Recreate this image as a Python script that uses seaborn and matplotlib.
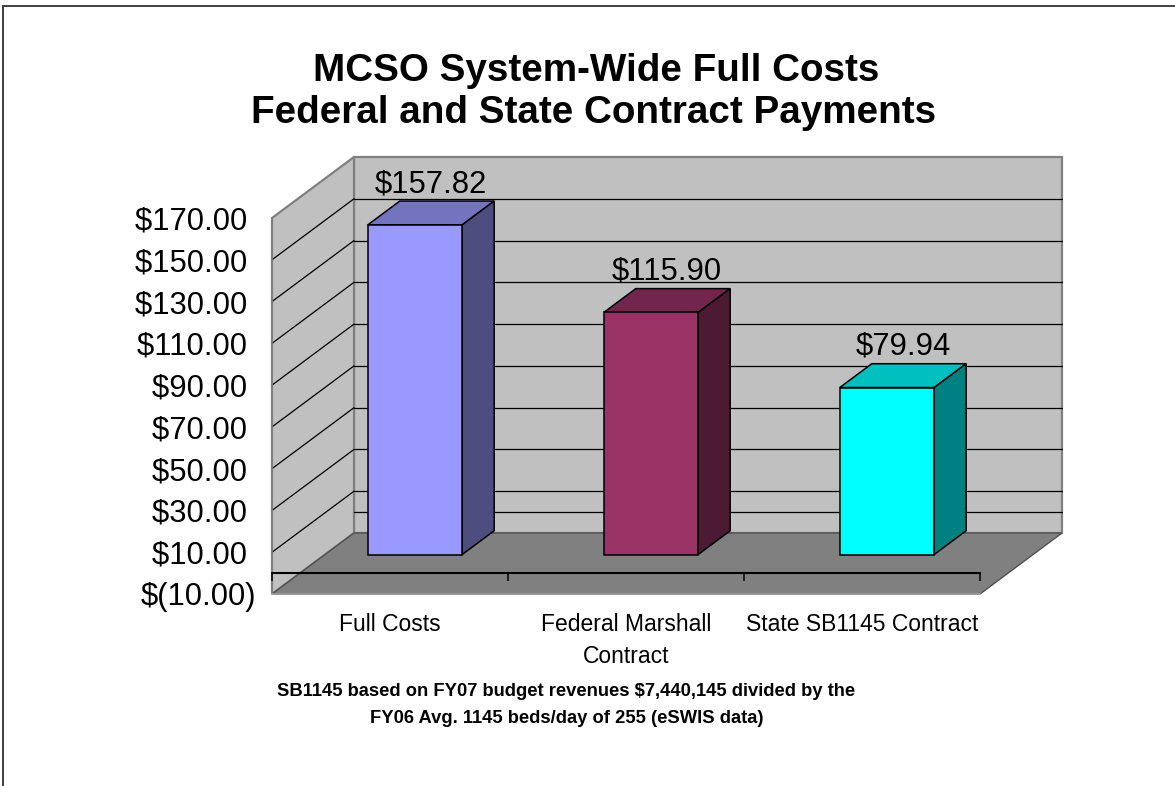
import numpy as np
import pandas as pd
import seaborn as sns
import matplotlib.pyplot as plt
from matplotlib.patches import Polygon
from matplotlib.lines import Line2D
from matplotlib.ticker import FixedLocator, FuncFormatter

# chart data
categories = ["Full Costs", "Federal Marshall\nContract", "State SB1145 Contract"]
values = [157.82, 115.90, 79.94]
bar_colors = ["#9999FF", "#993366", "#00FFFF"]
y_ticks = [-10, 10, 30, 50, 70, 90, 110, 130, 150, 170]
title_lines = ["MCSO System-Wide Full Costs", "Federal and State Contract Payments"]
note_lines = ["SB1145 based on FY07 budget revenues $7,440,145 divided by the",
              "FY06 Avg. 1145 beds/day of 255 (eSWIS data)"]

sns.set_style("white")
plt.rcParams['font.family'] = ['Liberation Sans', 'DejaVu Sans']
plt.rcParams['text.color'] = 'black'
plt.rcParams['xtick.color'] = 'black'
plt.rcParams['ytick.color'] = 'black'
plt.rcParams['xtick.labelcolor'] = 'black'
plt.rcParams['ytick.labelcolor'] = 'black'

W, H = 1175, 786
fig = plt.figure(figsize=(W / 100, H / 100), dpi=100)
ax = fig.add_axes([0, 0, 1, 1])

# pixel layout of the front plane (category units, value units)
n = len(categories)
y_lo, y_hi = y_ticks[0], y_ticks[-1]
left_px, cat_px = 272, 236
base_px = 594
unit_px = 376 / (y_hi - y_lo)
DX = 82 / cat_px          # full depth offset, x
DY = 61 / unit_px         # full depth offset, y
F0, BD = 0.305, 0.39      # bar front depth, bar depth

df = pd.DataFrame({"category": categories, "value": values})
sns.barplot(data=df, x="category", y="value", hue="category", palette=bar_colors,
            legend=False, width=0.4, saturation=1, edgecolor="black",
            linewidth=1.1, ax=ax, zorder=5)
bars = list(ax.patches)

ax.set_xlim(-0.5 - left_px / cat_px, -0.5 + (W - left_px) / cat_px)
ax.set_ylim(y_lo - (H - base_px) / unit_px, y_lo + base_px / unit_px)
ax.set_xlabel("")
ax.set_ylabel("")
ax.set_facecolor("none")

xa, xb = -0.5, n - 0.5
wall = "#C0C0C0"
edge = "#808080"

# back wall, side wall, floor
ax.add_patch(Polygon([(xa + DX, y_lo + DY), (xb + DX, y_lo + DY), (xb + DX, y_hi + DY),
                      (xa + DX, y_hi + DY)], fc=wall, ec=edge, lw=1.6, zorder=0))
ax.add_patch(Polygon([(xa, y_lo), (xa, y_hi), (xa + DX, y_hi + DY), (xa + DX, y_lo + DY)],
                     fc=wall, ec=edge, lw=1.6, zorder=0))
ax.add_patch(Polygon([(xa, y_lo), (xb, y_lo), (xb + DX, y_lo + DY), (xa + DX, y_lo + DY)],
                     fc="#808080", ec="#505050", lw=1, zorder=1))

# gridlines on walls
for v in y_ticks[1:-1]:
    ax.plot([xa, xa + DX], [v, v + DY], color="black", lw=0.9, zorder=2)
for v in [0] + y_ticks[1:-1]:
    ax.plot([xa + DX, xb + DX], [v + DY, v + DY], color="black", lw=0.9, zorder=2)

# 3d faces of the bars
for p, val in zip(bars, values):
    p.set_x(p.get_x() + F0 * DX)
    p.set_y(p.get_y() + F0 * DY)
    x0 = p.get_x()
    x1 = x0 + p.get_width()
    yb = p.get_y()
    yt = yb + p.get_height()
    fc = np.array(p.get_facecolor()[:3])
    ax.add_patch(Polygon([(x0, yt), (x1, yt), (x1 + BD * DX, yt + BD * DY),
                          (x0 + BD * DX, yt + BD * DY)], fc=fc * 0.75, ec="black",
                         lw=1.1, zorder=4))
    ax.add_patch(Polygon([(x1, yb), (x1, yt), (x1 + BD * DX, yt + BD * DY),
                          (x1 + BD * DX, yb + BD * DY)], fc=fc * 0.5, ec="black",
                         lw=1.1, zorder=4))
    ax.annotate(f"${val:.2f}", xy=((x0 + x1) / 2 + BD * DX / 2, yt + BD * DY),
                xytext=(0, 6.5), textcoords="offset points", ha="center",
                va="baseline", fontsize=22.3, color="black", zorder=7)

# category axis at zero on the front plane
ax.plot([xa, xb], [0, 0], color="black", lw=1.5, zorder=6)
bounds = np.arange(n + 1) - 0.5
ax.vlines(bounds, -8 / unit_px, 0, color="black", lw=1.1, zorder=6)


def money(v, pos=None):
    if v < 0:
        return f"$({abs(v):.2f})"
    return f"${v:.2f} "


for s in ["top", "right"]:
    ax.spines[s].set_visible(False)
ax.spines["left"].set_position(("data", xa))
ax.spines["left"].set_bounds(y_lo, y_hi)
ax.spines["left"].set_color(edge)
ax.spines["left"].set_linewidth(1.2)
ax.spines["bottom"].set_position(("data", y_lo))
ax.spines["bottom"].set_bounds(xa, xb)
ax.spines["bottom"].set_color("#A0A0A0")
ax.spines["bottom"].set_linewidth(1.2)

ax.yaxis.set_major_locator(FixedLocator(y_ticks))
ax.yaxis.set_major_formatter(FuncFormatter(money))
ax.tick_params(axis="y", length=7.2, width=1, color="black", pad=4.3,
               labelsize=22.3, labelcolor="black", direction="out")

ax.set_xticks(range(n))
ax.set_xticklabels(categories)
ax.set_xticks(bounds, minor=True)
ax.tick_params(axis="x", which="major", length=0, pad=13.5, labelsize=16.5,
               labelcolor="black")
ax.tick_params(axis="x", which="minor", length=6.5, width=1, color="#A0A0A0",
               direction="out")
for lbl in ax.get_xticklabels():
    lbl.set_linespacing(1.5)

# titles and note
fig.text(596.5 / W, 1 - 81 / H, title_lines[0], ha="center", va="baseline",
         fontsize=27.8, fontweight="bold", color="black")
fig.text(594 / W, 1 - 123 / H, title_lines[1], ha="center", va="baseline",
         fontsize=27.8, fontweight="bold", color="black")
fig.text(566.5 / W, 1 - 696 / H, note_lines[0], ha="center", va="baseline",
         fontsize=13.2, fontweight="bold", color="black")
fig.text(566.5 / W, 1 - 723 / H, note_lines[1], ha="center", va="baseline",
         fontsize=13.2, fontweight="bold", color="black")

# outer frame (left and top only visible)
fig.add_artist(Line2D([3 / W, 3 / W], [0, 1 - 6 / H], color="#404040", lw=1.4,
                      transform=fig.transFigure))
fig.add_artist(Line2D([3 / W, 1], [1 - 6 / H, 1 - 6 / H], color="#404040", lw=1.4,
                      transform=fig.transFigure))

fig.savefig("out.png", dpi=100)
